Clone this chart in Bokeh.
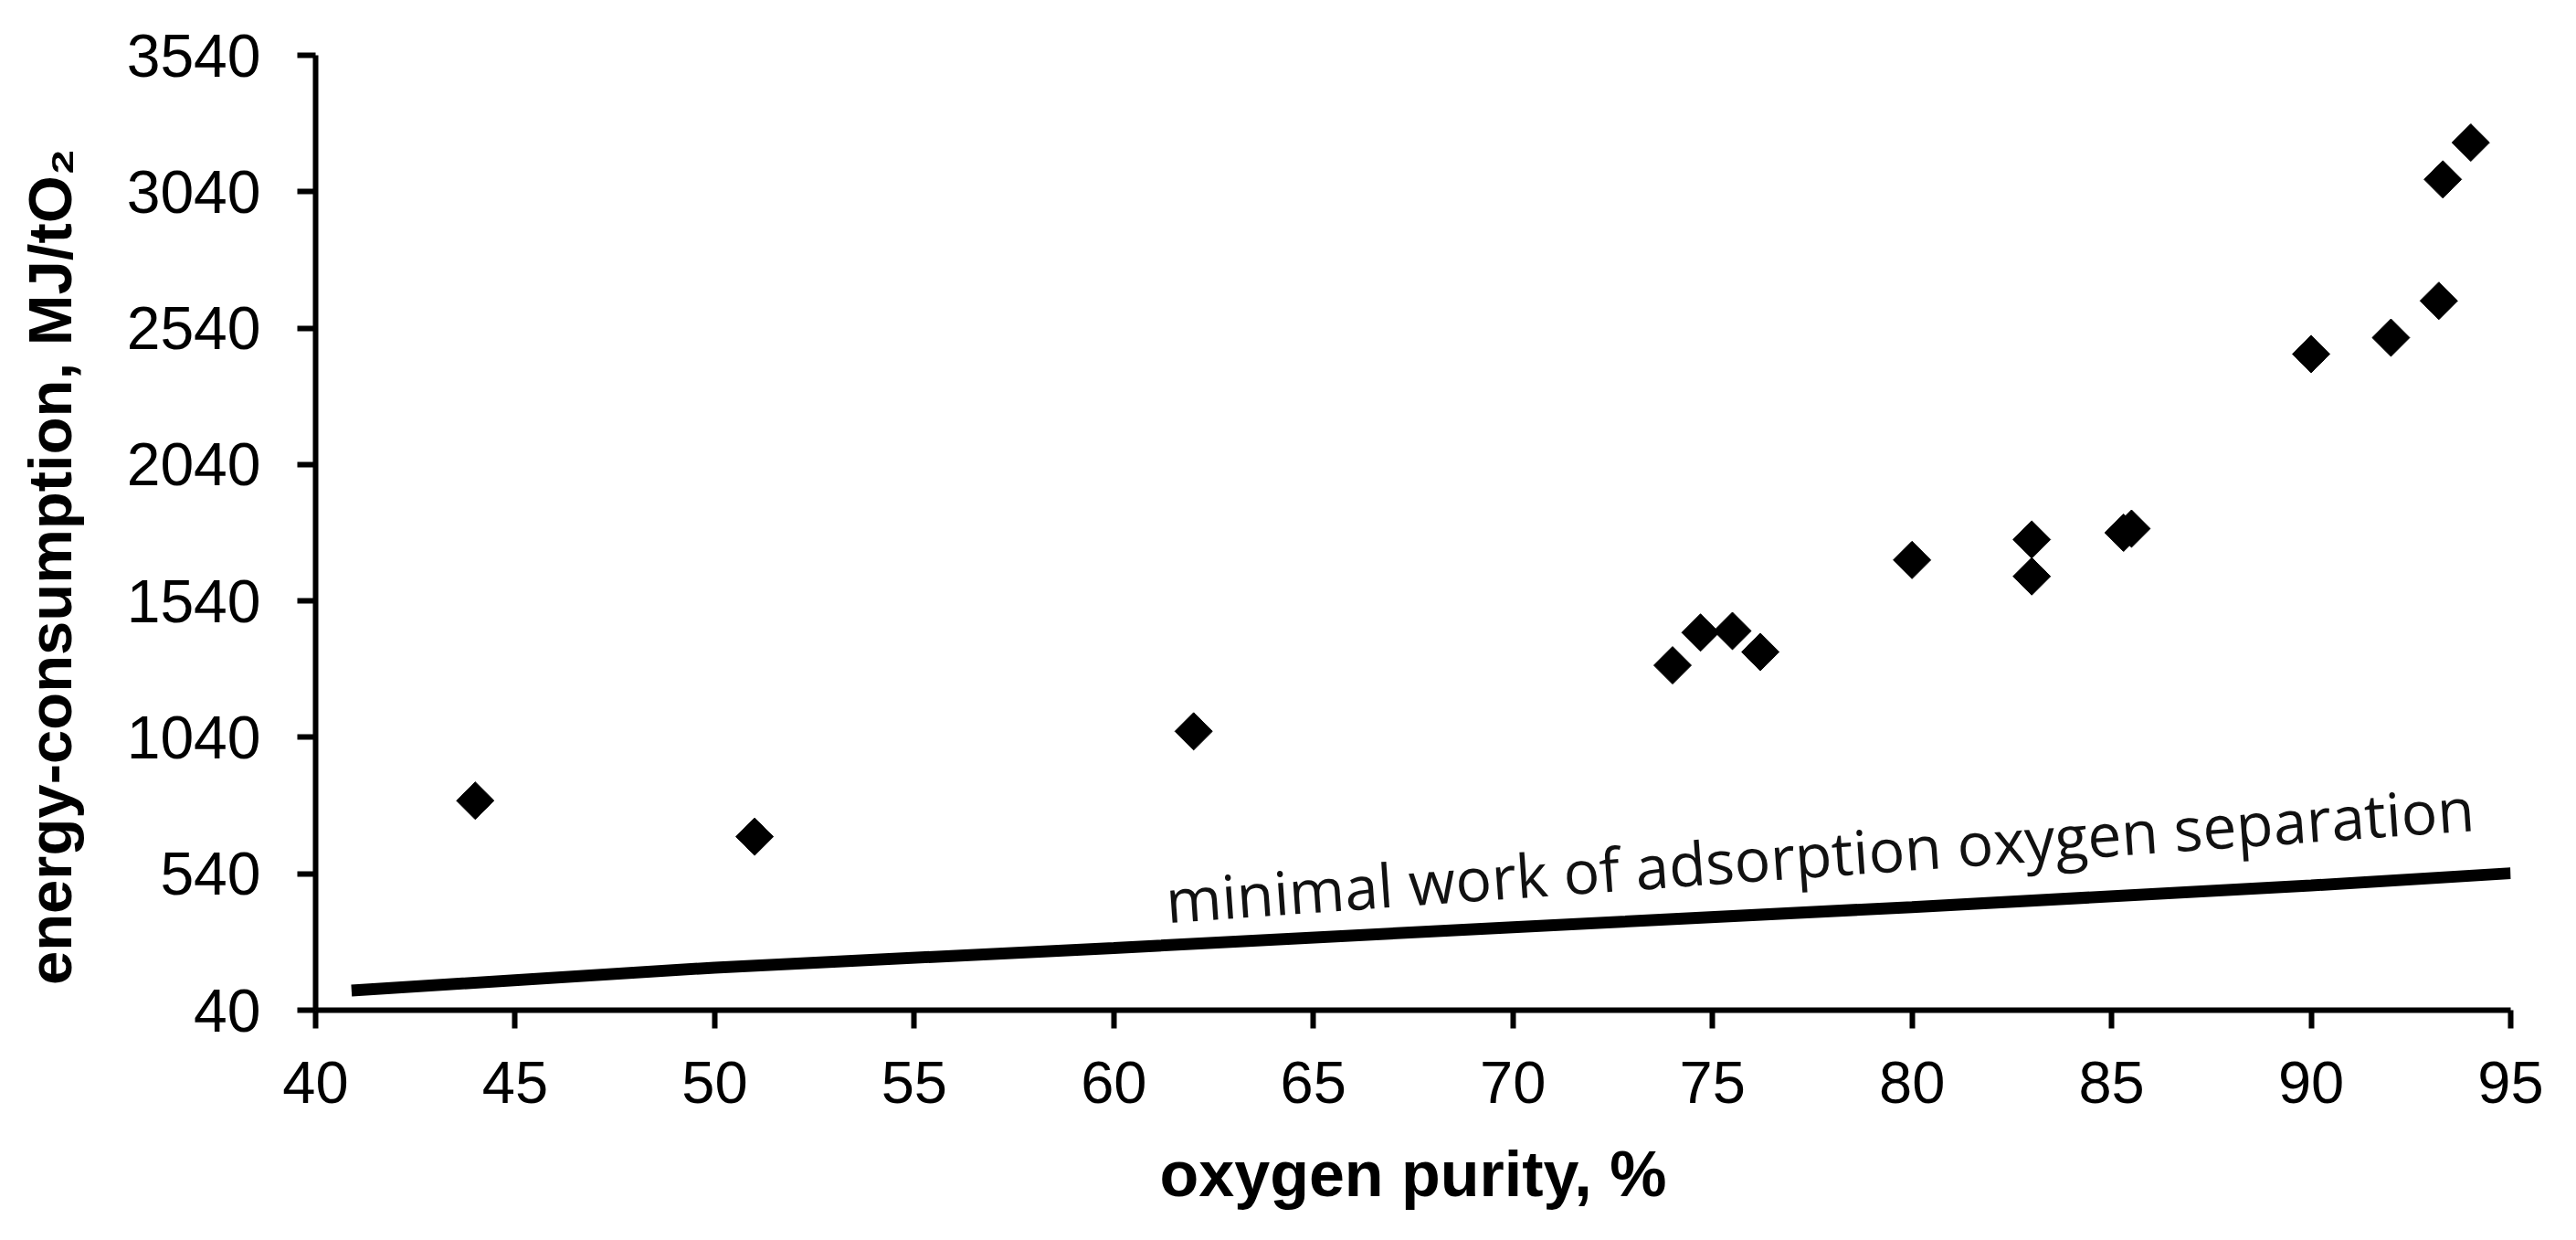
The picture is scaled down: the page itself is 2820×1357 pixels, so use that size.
import math
from bokeh.plotting import figure
from bokeh.models import Range1d, FixedTicker, Label
from bokeh.embed import file_html
from bokeh.resources import INLINE

# measured data (oxygen purity %, energy consumption MJ/tO2)
purity = [44, 51, 62, 74, 74.7, 75.5, 76.2, 80, 83, 83, 85.3, 85.5, 90, 92, 93.2, 93.3, 94]
energy = [808, 676, 1062, 1304, 1424, 1430, 1353, 1690, 1765, 1630, 1790, 1805, 2445, 2505, 2640, 3085, 3220]

# minimal work of adsorption oxygen separation curve
min_purity = [40.9, 50, 60, 70, 80, 90, 95]
min_work = [112, 196, 268, 344, 418, 497, 542]

x_ticks = [40, 45, 50, 55, 60, 65, 70, 75, 80, 85, 90, 95]
y_ticks = [40, 540, 1040, 1540, 2040, 2540, 3040, 3540]

x_title = "oxygen purity, %"
# trailing no-break spaces nudge the title slightly below the frame centre, as in the original
y_title = "energy-consumption, MJ/tO\u2082" + "\u00a0" * 4
curve_label = "minimal work of adsorption oxygen separation"

p = figure(width=2804, height=1341, output_backend="svg", toolbar_location=None,
           x_range=Range1d(40, 95), y_range=Range1d(40, 3540),
           min_border_left=345, min_border_right=56, min_border_top=60, min_border_bottom=236)
p.outline_line_color = None
p.grid.visible = False
p.background_fill_color = "white"

p.line(min_purity, min_work, line_width=13, line_color="black")
p.scatter(purity, energy, marker="square", angle=math.pi / 4, size=29,
          fill_color="black", line_color="black")

p.add_layout(Label(x=61.3, y=446, text=curve_label,
                   angle=0.0705, text_font="Open Sans", text_font_size="66px",
                   text_color="#111111", text_baseline="alphabetic"))

for ax in (p.xaxis[0], p.yaxis[0]):
    ax.axis_line_width = 6
    ax.axis_line_color = "black"
    ax.major_tick_line_width = 6
    ax.major_tick_line_color = "black"
    ax.major_tick_in = 0
    ax.major_tick_out = 20
    ax.minor_tick_line_color = None
    ax.major_label_text_color = "black"
    ax.axis_label_text_color = "black"

p.xaxis.ticker = FixedTicker(ticks=x_ticks)
p.yaxis.ticker = FixedTicker(ticks=y_ticks)

p.xaxis.major_label_text_font = "Liberation Sans"
p.xaxis.major_label_text_font_size = "65px"
p.xaxis.major_label_standoff = 36
p.xaxis.axis_label = x_title
p.xaxis.axis_label_text_font = "Liberation Sans"
p.xaxis.axis_label_text_font_style = "bold"
p.xaxis.axis_label_text_font_size = "70px"
p.xaxis.axis_label_standoff = 36

p.yaxis.major_label_text_font = "Liberation Sans"
p.yaxis.major_label_text_font_size = "66px"
p.yaxis.major_label_standoff = 40
p.yaxis.axis_label = y_title
p.yaxis.axis_label_text_font = "Liberation Sans"
p.yaxis.axis_label_text_font_style = "bold"
p.yaxis.axis_label_text_font_size = "67px"
p.yaxis.axis_label_standoff = 44

open("out.html", "w").write(file_html(p, INLINE))
